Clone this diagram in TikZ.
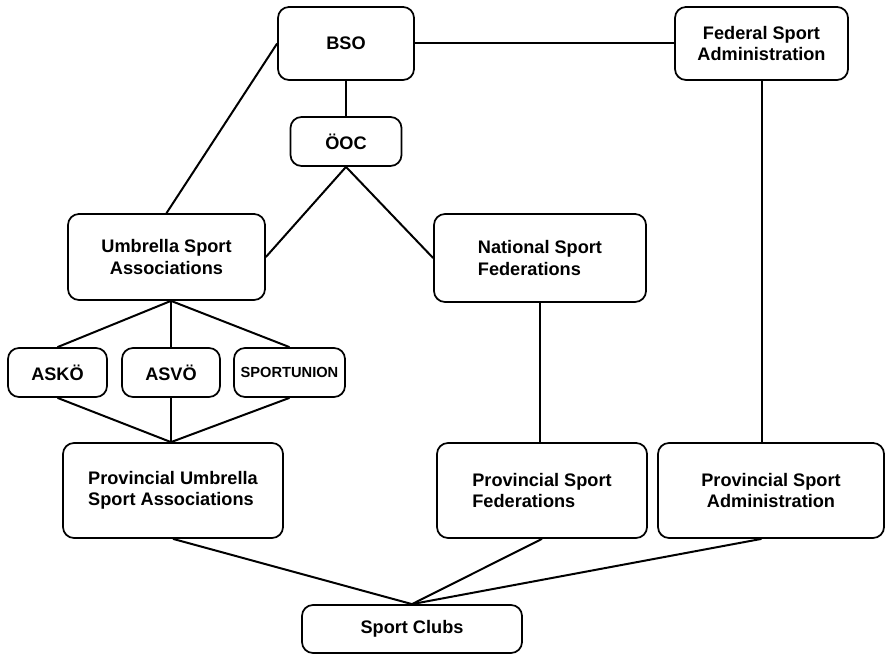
\documentclass[tikz,border=0pt]{standalone}
\usepackage{fontspec}
\setmainfont{Liberation Sans}
\begin{document}
\begin{tikzpicture}[x=0.03cm, y=-0.03cm,
    box/.style={draw, line width=1.5pt, rounded corners=0.33cm, inner sep=0pt,
      font=\bfseries\fontsize{15.5}{18}\selectfont, align=center},
    link/.style={line width=1.7pt}]
      \useasboundingbox (0,0) rectangle (886,654);
      % Niveau national
      \node[box, minimum width=4.08cm, minimum height=2.19cm] (bso) at (346,43.5) {BSO};
      \node[box, minimum width=3.33cm, minimum height=1.47cm] (ooc) at (346,141.5) {ÖOC};
      \node[box, minimum width=5.19cm, minimum height=2.19cm] (fsa) at (761.5,43.5) {Federal Sport\\Administration};
      \node[box, minimum width=5.91cm, minimum height=2.58cm] (usa) at (166.5,257) {Umbrella Sport\\Associations};
      \node[box, align=left, minimum width=6.36cm, minimum height=2.64cm] (nsf) at (540,258) {National Sport\\Federations};
      % Dachverbände
      \node[box, minimum width=2.97cm, minimum height=1.47cm] (asko) at (57.5,372.5) {ASKÖ};
      \node[box, minimum width=2.94cm, minimum height=1.47cm] (asvo) at (171,372.5) {ASVÖ};
      \node[box, minimum width=3.33cm, minimum height=1.47cm, font=\bfseries\fontsize{12.5}{15}\selectfont] (spu) at (289.5,372.5) {SPORTUNION};
      % Niveau provincial
      \node[box, align=left, minimum width=6.6cm, minimum height=2.85cm] (pusa) at (173,490.5) {Provincial Umbrella\\Sport Associations};
      \node[box, align=left, minimum width=6.3cm, minimum height=2.85cm] (psf) at (542,490.5) {Provincial Sport\\Federations};
      \node[box, minimum width=6.78cm, minimum height=2.85cm] (psa) at (771,490.5) {Provincial Sport\\Administration};
      \node[box, minimum width=6.6cm, minimum height=1.44cm] (clubs) at (412,629) {Sport Clubs};
      % Liaisons
      \coordinate (usafoot) at (asvo.north |- usa.south);
      \coordinate (pusahead) at (asvo.south |- pusa.north);
      \draw[link] (bso.east) -- (fsa.west);
      \draw[link] (bso.south) -- (ooc.north);
      \draw[link] (bso.west) -- (usa.north);
      \draw[link] (usa.east) -- (ooc.south) -- (nsf.west);
      \draw[link] (usafoot) -- (asko.north);
      \draw[link] (usafoot) -- (asvo.north);
      \draw[link] (usafoot) -- (spu.north);
      \draw[link] (asko.south) -- (pusahead);
      \draw[link] (asvo.south) -- (pusahead);
      \draw[link] (spu.south) -- (pusahead);
      \draw[link] (nsf.south) -- (nsf.south |- psf.north);
      \draw[link] (fsa.south) -- (fsa.south |- psa.north);
      \draw[link] (pusa.south) -- (clubs.north);
      \draw[link] (psf.south) -- (clubs.north);
      \draw[link] (fsa.south |- psa.south) -- (clubs.north);
    \end{tikzpicture}
\end{document}
